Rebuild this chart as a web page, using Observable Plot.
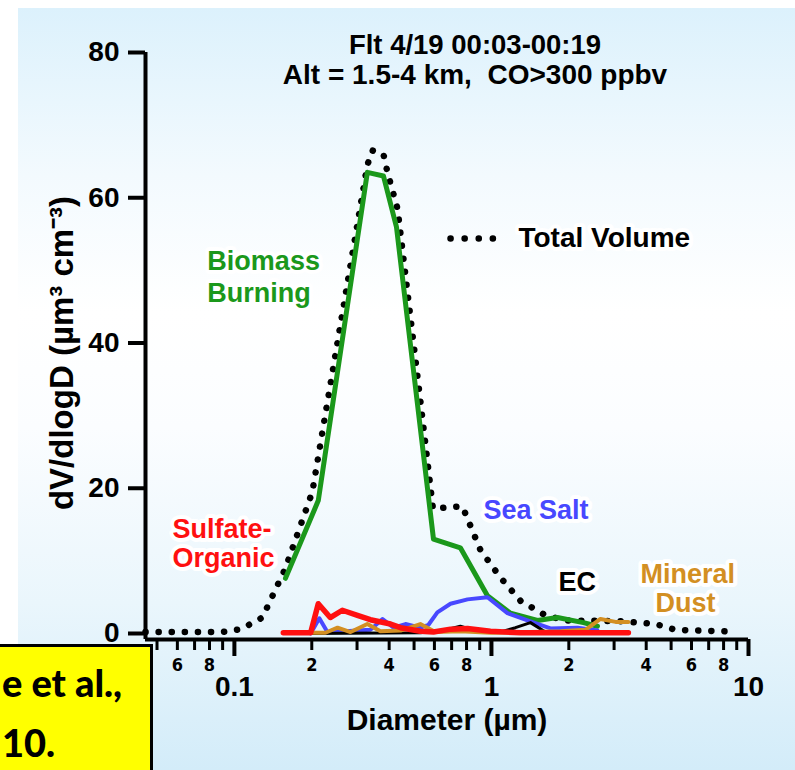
<!DOCTYPE html>
<html>
<head>
<meta charset="utf-8">
<script src="https://cdn.jsdelivr.net/npm/d3@7"></script>
<script src="https://cdn.jsdelivr.net/npm/@observablehq/plot@0.6"></script>
<style>
  body { margin: 0; background: #ffffff; }
  #wrap { position: relative; width: 795px; height: 770px; overflow: hidden; background: #ffffff; }
  #bg { position: absolute; left: 18px; top: 8px; right: 0; bottom: 0;
        background: linear-gradient(to bottom, #dcf1fc 0%, #f3fafe 22%, #ffffff 40%, #fbfdff 55%, #eaf6fc 78%, #d3ecf9 100%); }
  #chart { position: absolute; left: 0; top: 0; }
  #cite { position: absolute; left: -3px; top: 644px; width: 150px; height: 130px; border: 3px solid #000;
          background: #ffff00; overflow: hidden; z-index: 5; }
  #cite span { position: absolute; white-space: nowrap; font-family: Lato, "Open Sans", sans-serif;
               font-weight: 900; font-size: 38px; line-height: 1; color: #000; }
</style>
</head>
<body>
<div id="wrap">
  <div id="bg"></div>
  <div id="chart"></div>
  <div id="cite"><span style="left:2px;top:16px">e et al.,</span><span style="left:2px;top:76px">10.</span></div>
</div>
<script>
// ---- data (diameter in µm, dV/dlogD in µm³ cm⁻³) ----
const totalDiam = [0.0451, 0.090, 0.106, 0.1285, 0.158, 0.201, 0.329, 0.344, 0.380, 0.394, 0.431, 0.529, 0.592, 0.771, 0.906, 1.084, 1.297, 1.623, 1.94, 3.18, 4.35, 5.2, 8.14];
const totalVol  = [0.2, 0.2, 0.6, 2.2, 9.0, 19.5, 64.5, 66.5, 66.0, 63.5, 58.5, 32.0, 17.2, 17.5, 11.5, 7.7, 4.5, 2.5, 1.8, 1.7, 1.3, 0.5, 0.3];

const bbDiam = [0.158, 0.212, 0.329, 0.380, 0.427, 0.595, 0.757, 0.965, 1.186, 1.51, 1.806, 2.28, 2.585];
const bbVol  = [7.6, 18.3, 63.5, 63.0, 56.0, 13.0, 11.8, 5.2, 2.8, 1.8, 2.2, 1.5, 1.0];

const ssDiam = [0.198, 0.214, 0.230, 0.270, 0.338, 0.377, 0.416, 0.463, 0.529, 0.569, 0.616, 0.693, 0.807, 0.965, 1.154, 1.381, 1.696, 2.161, 2.585];
const ssVol  = [0.0, 2.1, 0.2, 0.3, 0.5, 2.0, 0.8, 1.3, 0.8, 1.2, 2.9, 4.1, 4.7, 5.0, 2.8, 1.8, 0.7, 0.8, 0.4];

const soDiam = [0.155, 0.198, 0.212, 0.236, 0.263, 0.301, 0.338, 0.405, 0.443, 0.529, 0.595, 0.693, 0.807, 0.991, 1.3, 3.41];
const soVol  = [0.1, 0.1, 4.1, 2.2, 3.2, 2.5, 1.9, 1.3, 0.8, 0.3, 0.2, 0.6, 0.7, 0.3, 0.1, 0.1];

const mdDiam = [0.198, 0.226, 0.252, 0.283, 0.329, 0.370, 0.443, 0.529, 0.605, 0.757, 0.991, 1.418, 1.856, 2.32, 2.655, 3.04, 3.41];
const mdVol  = [0.1, 0.1, 0.8, 0.2, 1.3, 0.3, 0.4, 1.3, 0.2, 0.3, 0.1, 0.2, 0.3, 0.5, 2.0, 1.6, 1.6];

const ecDiam = [0.198, 0.529, 0.662, 0.757, 0.866, 1.084, 1.24, 1.418, 1.623, 2.655];
const ecVol  = [0.0, 0.1, 0.5, 1.0, 0.4, 0.2, 0.8, 1.5, 0.2, 0.1];

const legendDiam = [0.693, 1.084];
const legendVol  = [54.4, 54.4];

const yTicks = [0, 20, 40, 60, 80];
const xMajorTicks = [0.1, 1, 10];
const xMajorLabels = ["0.1", "1", "10"];
const xMinorTicks = [0.05, 0.06, 0.07, 0.08, 0.09, 0.2, 0.3, 0.4, 0.5, 0.6, 0.7, 0.8, 0.9, 2, 3, 4, 5, 6, 7, 8, 9];
const xMinorLabelTicks = [0.06, 0.08, 0.2, 0.4, 0.6, 0.8, 2, 4, 6, 8];
const xMinorLabels = ["6", "8", "2", "4", "6", "8", "2", "4", "6", "8"];

const titleLines = ["Flt 4/19 00:03-00:19", "Alt = 1.5-4 km,  CO>300 ppbv"];
const xLabel = "Diameter (µm)";
const yLabel = "dV/dlogD (µm³ cm⁻³)";

// ---- build ----
const rows = (ds, vs) => ds.map((d, i) => ({d, v: vs[i]}));
const F = "'Liberation Sans', Arial, sans-serif";
const FN = "'Liberation Sans Narrow', 'DejaVu Sans Condensed', sans-serif";
const GREEN = "#1b981b", RED = "#ff1010", BLUE = "#4848ff", ORANGE = "#d38f22";

const lbl = (d, v, t, fill, extra = {}) =>
  Plot.text([{d, v, t}], {x: "d", y: "v", text: "t", fill, textAnchor: "start", lineAnchor: "bottom",
    fontSize: 27, fontWeight: "bold", fontFamily: F, stroke: "white", strokeWidth: 8, strokeLinejoin: "round", ...extra});

const chart = Plot.plot({
  width: 795, height: 770,
  marginLeft: 145, marginRight: 47, marginTop: 52, marginBottom: 131,
  style: {background: "transparent", fontFamily: F, overflow: "visible", color: "black"},
  x: {type: "log", domain: [0.0451, 10]},
  y: {domain: [-0.826, 80]},
  marks: [
    // labels (behind lines)
    lbl(0.0785, 50.0, "Biomass", GREEN),
    lbl(0.0785, 45.7, "Burning", GREEN),
    lbl(0.0574, 13.1, "Sulfate-", RED),
    lbl(0.0574, 9.1, "Organic", RED),
    lbl(0.931, 15.8, "Sea Salt", BLUE),
    lbl(1.823, 5.9, "EC", "black"),
    lbl(3.80, 7.0, "Mineral", ORANGE),
    lbl(4.35, 2.9, "Dust", ORANGE),
    lbl(1.274, 53.15, "Total Volume", "black", {fontSize: 28}),
    // series
    Plot.line(rows(totalDiam, totalVol), {x: "d", y: "v", stroke: "black", strokeWidth: 6.5, strokeDasharray: "0.1 13", strokeLinecap: "round"}),
    Plot.line(rows(legendDiam, legendVol), {x: "d", y: "v", stroke: "black", strokeWidth: 6.5, strokeDasharray: "0.1 14", strokeLinecap: "round"}),
    Plot.line(rows(bbDiam, bbVol), {x: "d", y: "v", stroke: GREEN, strokeWidth: 5}),
    Plot.line(rows(ssDiam, ssVol), {x: "d", y: "v", stroke: BLUE, strokeWidth: 4}),
    Plot.line(rows(ecDiam, ecVol), {x: "d", y: "v", stroke: "black", strokeWidth: 3}),
    Plot.line(rows(mdDiam, mdVol), {x: "d", y: "v", stroke: ORANGE, strokeWidth: 4}),
    Plot.line(rows(soDiam, soVol), {x: "d", y: "v", stroke: RED, strokeWidth: 5.5}),
    // axes
    Plot.ruleX([0.0451], {stroke: "black", strokeWidth: 4}),
    Plot.ruleY([-0.826], {stroke: "black", strokeWidth: 4}),
    Plot.axisY({ticks: yTicks, tickSize: 17, tickPadding: 9, strokeWidth: 4, fontSize: 28, fontWeight: "bold", fontFamily: F, label: null}),
    Plot.axisX({ticks: xMinorTicks, tickSize: 11, tickFormat: () => "", strokeWidth: 3, label: null}),
    Plot.text(xMinorLabelTicks, {x: d => d, frameAnchor: "bottom", dy: 19, lineAnchor: "top",
      text: (d, i) => xMinorLabels[i], fontSize: 18, fontWeight: "bold", fontFamily: FN, fill: "black"}),
    Plot.axisX({ticks: xMajorTicks, tickSize: 17, tickPadding: 20, strokeWidth: 4, fontSize: 28, fontWeight: "bold", fontFamily: F,
      tickFormat: d => xMajorLabels[xMajorTicks.indexOf(d)], label: null}),
    // axis titles and title
    Plot.text([xLabel], {frameAnchor: "bottom", text: d => d, dy: 90, lineAnchor: "bottom", fontSize: 30, fontWeight: "bold", fontFamily: F, fill: "black"}),
    Plot.text([yLabel], {frameAnchor: "left", text: d => d, dx: -83, dy: 7, rotate: -90, textAnchor: "middle", lineAnchor: "middle", fontSize: 33, fontWeight: "bold", fontFamily: F, fill: "black"}),
    Plot.text([titleLines[0]], {frameAnchor: "top", text: d => d, dx: 28, dy: 1, lineAnchor: "bottom", fontSize: 27.5, fontWeight: "bold", fontFamily: F, fill: "black"}),
    Plot.text([titleLines[1]], {frameAnchor: "top", text: d => d, dx: 28, dy: 31, lineAnchor: "bottom", fontSize: 28, fontWeight: "bold", fontFamily: F, fill: "black"})
  ]
});
document.getElementById("chart").appendChild(chart);
</script>
</body>
</html>
